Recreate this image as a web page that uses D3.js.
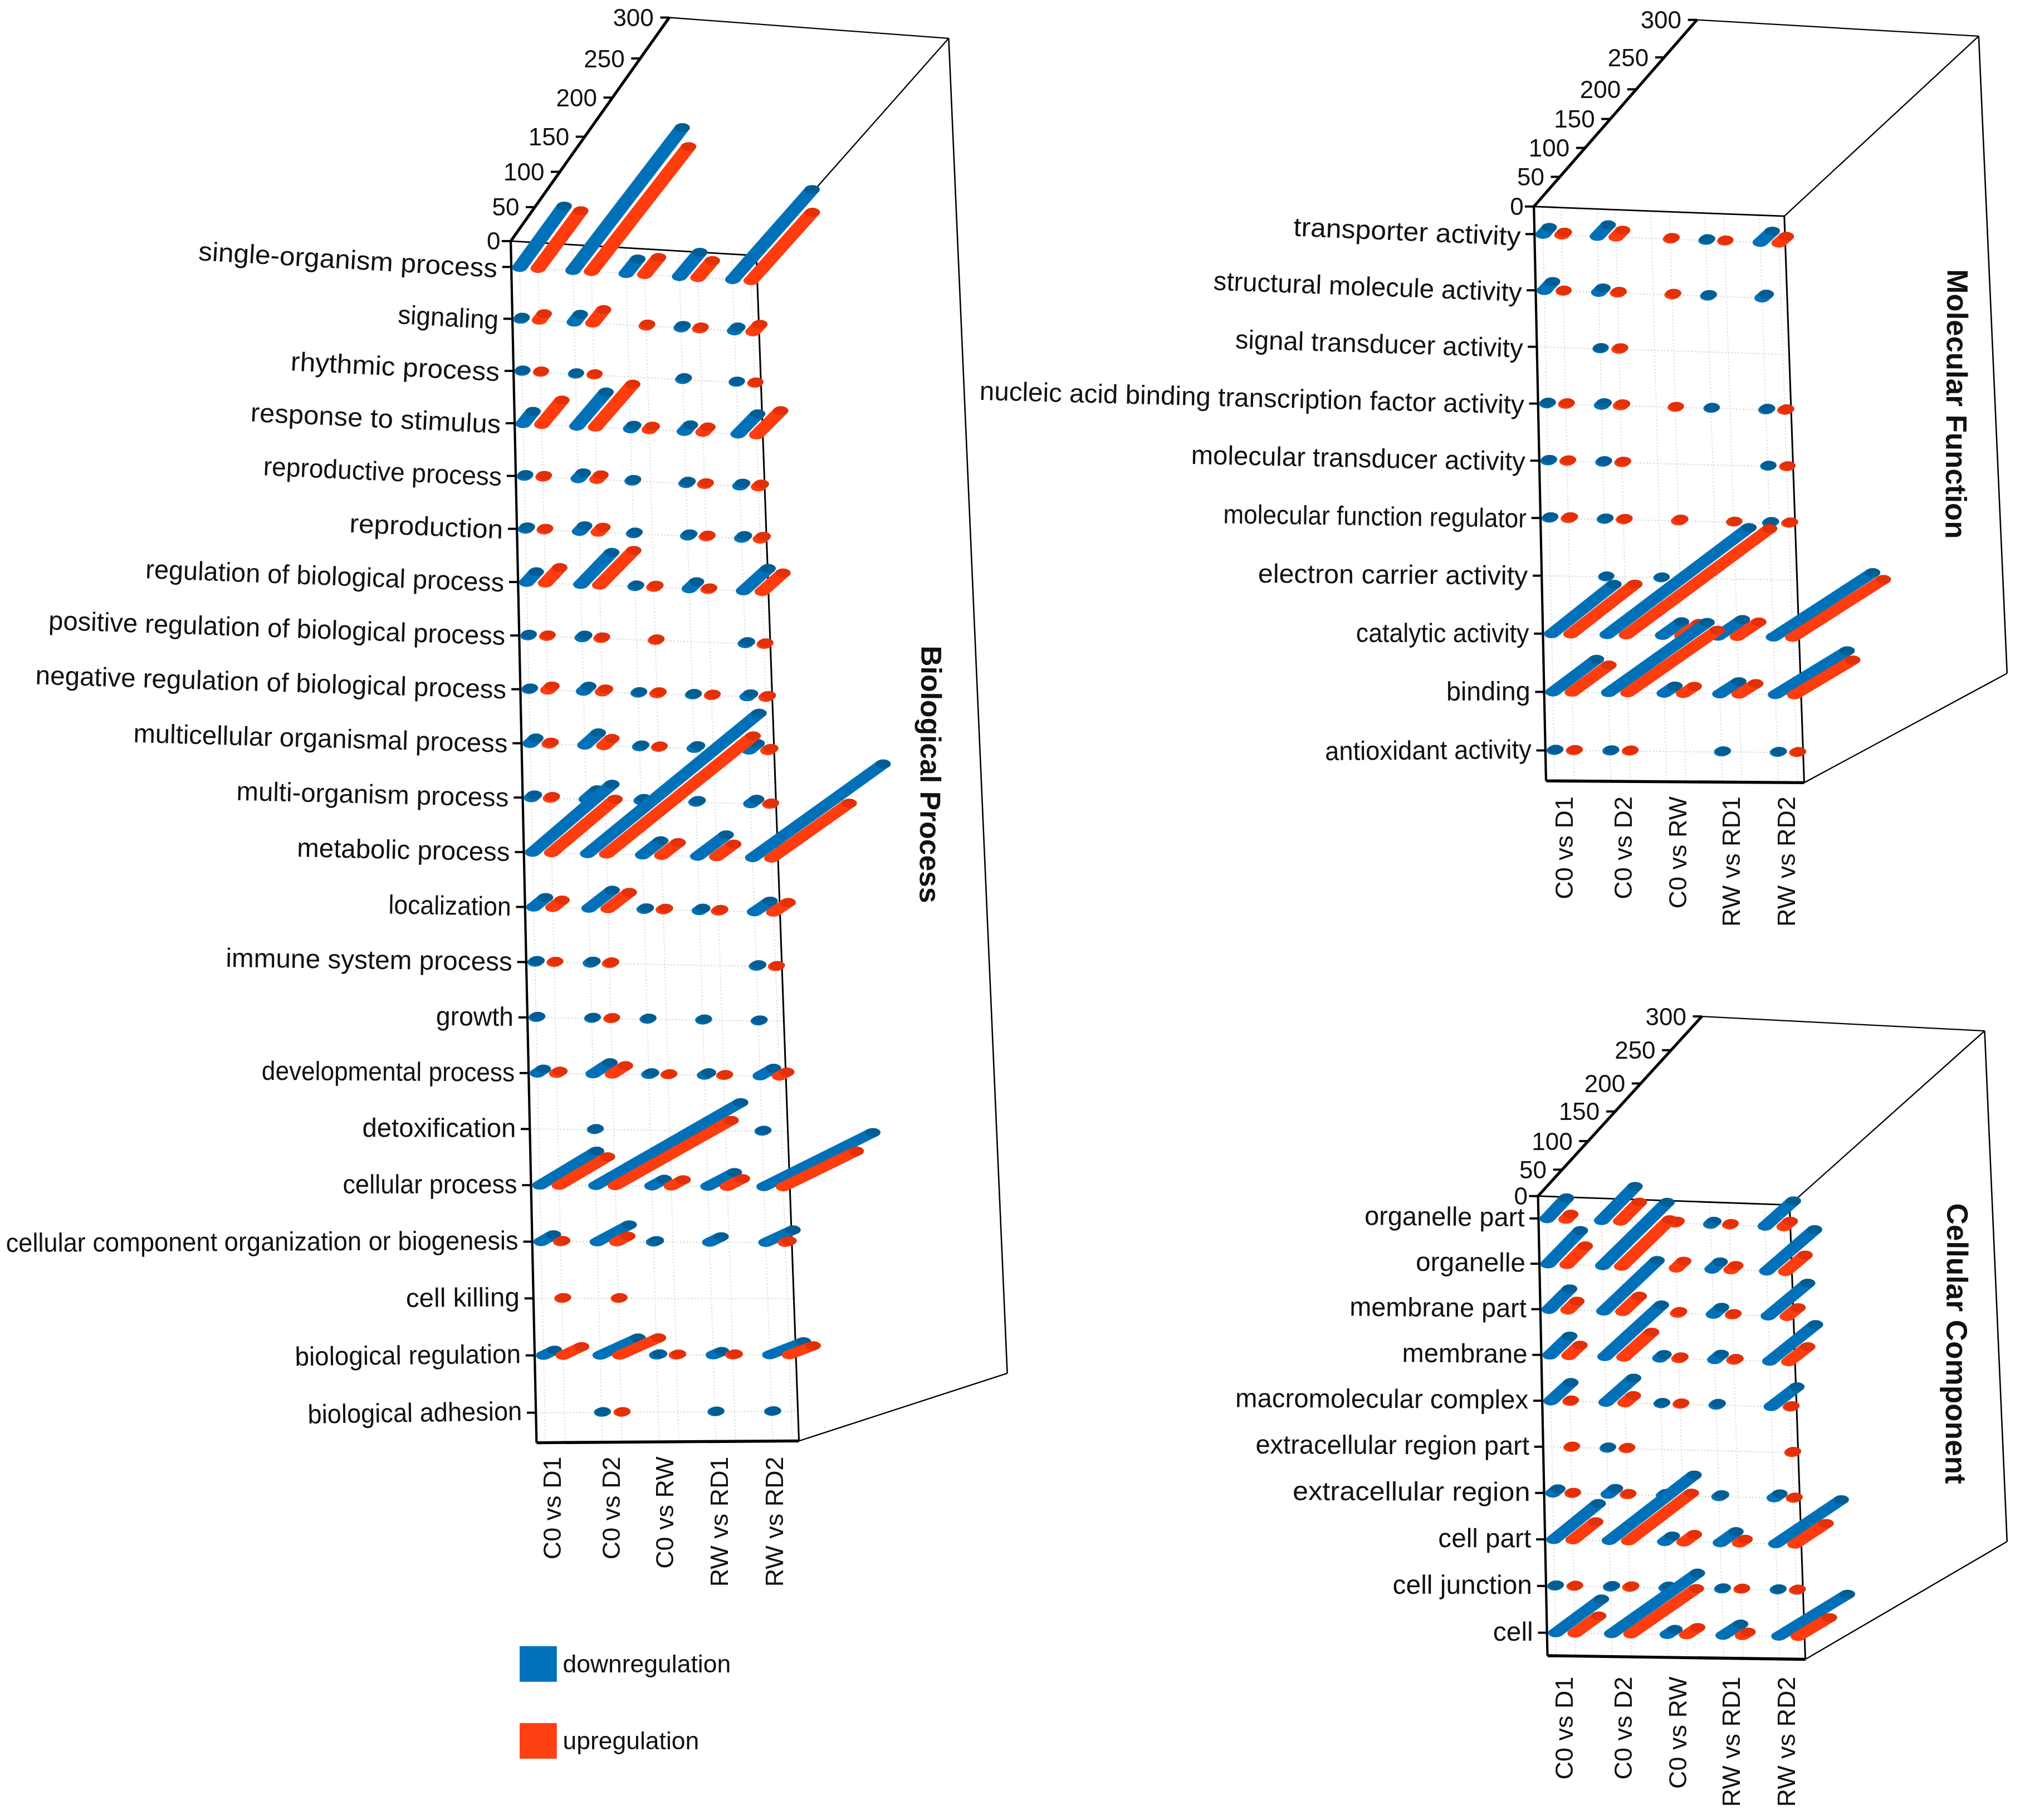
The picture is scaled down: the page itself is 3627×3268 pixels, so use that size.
<!DOCTYPE html>
<html><head><meta charset="utf-8">
<script src="https://cdn.jsdelivr.net/npm/d3@7"></script>
<style>
html,body{margin:0;padding:0;background:#fff}
svg{display:block;filter:blur(0.6px)}
text{font-family:"Liberation Sans",Arial,sans-serif;fill:#111}
</style></head><body>
<svg id="chart"></svg>
<script>
const comparisons = ["C0 vs D1","C0 vs D2","C0 vs RW","RW vs RD1","RW vs RD2"];
const depthTicks = [0,50,100,150,200,250,300];
const legendNames = ["downregulation","upregulation"];

const bpCategories = ["single-organism process","signaling","rhythmic process","response to stimulus","reproductive process","reproduction","regulation of biological process","positive regulation of biological process","negative regulation of biological process","multicellular organismal process","multi-organism process","metabolic process","localization","immune system process","growth","developmental process","detoxification","cellular process","cellular component organization or biogenesis","cell killing","biological regulation","biological adhesion"];
const bpDown = [[90,203,22,37,135],[3,12,null,4,6],[2,2,null,3,2],[20,56,6,11,34],[3,10,3,4,5],[4,10,3,4,5],[19,58,3,13,42],[3,5,null,null,4],[3,10,3,3,6],[11,25,4,6,14],[6,20,5,4,10],[145,285,32,49,205],[22,42,4,6,26],[4,5,null,null,4],[3,3,3,3,3],[11,30,5,7,22],[null,3,null,null,3],[99,235,21,44,170],[22,55,5,19,44],[null,null,null,null,null],[19,64,5,14,54],[null,3,null,3,3]];
const bpUp = [[85,180,26,26,103],[10,21,3,3,12],[2,2,null,null,2],[40,70,6,9,41],[3,8,null,3,5],[3,9,null,3,5],[28,63,4,3,35],[3,3,3,null,3],[8,6,4,3,4],[4,15,3,null,5],[4,null,null,null,3],[115,245,29,29,125],[17,38,4,4,24],[3,4,null,null,3],[null,3,null,null,null],[6,23,3,3,12],[null,null,null,null,null],[84,190,20,25,115],[4,19,null,null,6],[3,3,null,null,null],[32,65,4,4,38],[null,3,null,null,null]];

const mfCategories = ["transporter activity","structural molecule activity","signal transducer activity","nucleic acid binding transcription factor activity","molecular transducer activity","molecular function regulator","electron carrier activity","catalytic activity","binding","antioxidant activity"];
const mfDown = [[12,20,null,3,20],[16,8,null,3,7],[null,2,null,null,null],[3,5,null,2,3],[3,3,null,null,2],[3,3,null,null,3],[null,2,2,null,null],[113,245,32,40,160],[78,172,18,31,115],[3,3,null,3,3]];
const mfUp = [[5,12,3,2,12],[2,3,3,null,null],[null,3,null,null,null],[3,4,2,null,3],[3,3,null,null,2],[4,3,4,2,3],[null,null,null,null,null],[115,245,29,35,145],[65,155,18,27,92],[3,3,null,null,3]];

const ccCategories = ["organelle part","organelle","membrane part","membrane","macromolecular complex","extracellular region part","extracellular region","cell part","cell junction","cell"];
const ccDown = [[40,65,null,6,50],[65,120,null,15,82],[42,100,null,15,68],[40,105,8,12,78],[40,53,3,4,45],[null,3,null,null,null],[10,14,5,5,10],[84,150,14,28,108],[3,4,5,3,3],[85,150,14,31,112]];
const ccUp = [[10,37,4,3,11],[37,90,14,9,34],[18,32,4,3,19],[22,53,4,4,33],[3,16,3,null,3],[3,3,null,null,3],[3,3,null,null,3],[44,112,19,10,53],[3,4,null,3,3],[45,115,20,10,53]];

// layout only: fitted text lengths of the category labels
const bpLabelLengths = [232,78,162,194,185,119,278,354,365,290,211,165,95,222,60,196,119,135,397,88,175,166];
const mfLabelLengths = [176,239,223,422,259,235,209,134,65,160];
const ccLabelLengths = [124,85,137,97,227,212,184,72,108,31];

const W = 3627, H = 3268, S = 3627/1565;
const colors = {down:"#0071b8", downTop:"#005e94", up:"#ff3c0e", upTop:"#e23008",
                legendDown:"#0072bc", legendUp:"#ff4013"};

const svg = d3.select("#chart").attr("width",W).attr("height",H)
  .attr("viewBox",`0 0 ${W/S} ${H/S}`);

const panels = [
 {title:"Biological Process", categories:bpCategories, down:bpDown, up:bpUp, lengths:bpLabelLengths,
  TL:[395.7,186.8],TR:[586,198],BR:[619,1116.4],BL:[415.7,1117.8],
  bTL:[518.5,13.6],bTR:[735,29.7],bBR:[780.4,1064],bBL:[564,1055],
  fracs:[0,.152,.310,.467,.642,.817,1], vRange:[.0215,.975], bow:.0525, tilt:[3.4,-1], drop:[2,-.5],
  xLab:[429.5,475.5,517,559,602], xLabY:1128.5, titlePos:[721,600], titleFs:22.3},
 {title:"Molecular Function", categories:mfCategories, down:mfDown, up:mfUp, lengths:mfLabelLengths,
  TL:[1188.4,160],TR:[1382.4,167.5],BR:[1397.8,606.4],BL:[1197.8,605],
  bTL:[1314.7,15.4],bTR:[1533,28],bBR:[1555,521.7],bBL:[1336.7,509],
  fracs:[0,.159,.314,.469,.628,.799,1], vRange:[.048,.947], bow:.023, tilt:[2.6,-.7], drop:[2.8,-.2],
  xLab:[1213.5,1259.5,1301.5,1343,1386], xLabY:617, titlePos:[1516,313], titleFs:22.8},
 {title:"Cellular Component", categories:ccCategories, down:ccDown, up:ccUp, lengths:ccLabelLengths,
  TL:[1191.6,926.7],TR:[1386.5,933.6],BR:[1398.7,1285.6],BL:[1198.9,1282.8],
  bTL:[1318.5,787.5],bTR:[1537.6,798.7],bBR:[1555,1194.4],bBL:[1336,1183],
  fracs:[0,.147,.306,.471,.627,.812,1], vRange:[.0486,.95], bow:.018, tilt:[.6,0], drop:[0,0],
  xLab:[1213.5,1259.5,1301.5,1343,1386], xLabY:1299, titlePos:[1516,1041], titleFs:22.9}
];

const bil = (a,b,c,d,u,v) => [0,1].map(k =>
  (1-v)*((1-u)*a[k]+u*b[k]) + v*((1-u)*d[k]+u*c[k]));
const RX = 5.9, RY = 3.5, RED_OFFSET = .075, LABEL_FS = 20.6;

panels.forEach(p => {
  const g = svg.append("g");
  const face = (u,v) => bil(p.TL,p.TR,p.BR,p.BL,u,v);
  const depthVec = (u,v) => bil(
    [p.bTL[0]-p.TL[0],p.bTL[1]-p.TL[1]],[p.bTR[0]-p.TR[0],p.bTR[1]-p.TR[1]],
    [p.bBR[0]-p.BR[0],p.bBR[1]-p.BR[1]],[p.bBL[0]-p.BL[0],p.bBL[1]-p.BL[1]],u,v);
  const depth = d3.scaleLinear().domain(depthTicks).range(p.fracs);
  const tScale = d3.scalePoint().domain(p.categories).range([0,1]);
  const vSpan = d3.scaleLinear().domain([0,1]).range(p.vRange);
  const vScale = c => { const t = tScale(c); return vSpan(t + p.bow*(t*t-t)); };
  const uScale = d3.scalePoint().domain(comparisons).range([.034,.90]);
  const tilt = d3.scaleLinear().domain([0,1]).range(p.tilt);
  const drop = d3.scaleLinear().domain([0,1]).range(p.drop);
  const xLab = d3.scaleOrdinal().domain(comparisons).range(p.xLab);
  const line = (a,b,w,col,dash) => g.append("line")
    .attr("x1",a[0]).attr("y1",a[1]).attr("x2",b[0]).attr("y2",b[1])
    .attr("stroke",col||"#000").attr("stroke-width",w).attr("stroke-dasharray",dash||null);

  // dotted grid on the front face
  p.categories.forEach(c => {
    const v = vScale(c);
    line(face(0,v),face(1,v),.8,"#cfcfcf","1,1.6");
  });
  comparisons.forEach(c => [0,RED_OFFSET].forEach(o => {
    const u = uScale(c)+o;
    line(face(u,0),face(u,1),.8,"#d8d8d8","1,1.6");
  }));

  // box frame
  line(p.TL,p.TR,1.2);
  line(p.TR,p.bTR,1);
  line(p.bTL,p.bTR,1);
  line(p.bTR,p.bBR,1.1);
  line(p.BR,p.bBR,1);
  line(p.TR,p.BR,1.3);
  line(p.TL,p.BL,1.8);
  line(p.BL,p.BR,2.3);
  line(p.TL,p.bTL,2.2);

  // value ticks on the receding axis
  depthTicks.forEach(t => {
    const f = depth(t);
    const pt = [p.TL[0]+(p.bTL[0]-p.TL[0])*f, p.TL[1]+(p.bTL[1]-p.TL[1])*f];
    line([pt[0]-7,pt[1]],pt,1.7);
    g.append("text").attr("x",pt[0]-(t===0?8:12)).attr("y",pt[1]+6.7)
      .attr("text-anchor","end").attr("font-size",19).text(t);
  });

  // category ticks and labels
  p.categories.forEach((c,i) => {
    const v = vScale(c), pt = face(0,v);
    line([pt[0]-7,pt[1]],pt,1.7);
    const lx = pt[0]-10.8, ly = pt[1]+drop(v);
    g.append("text").attr("transform",`translate(${lx},${ly}) rotate(${tilt(v)})`)
      .attr("dy","0.3em").attr("text-anchor","end").attr("font-size",LABEL_FS)
      .attr("textLength",p.lengths[i]).attr("lengthAdjust","spacingAndGlyphs").text(c);
  });

  // comparison labels
  comparisons.forEach(c => {
    g.append("text").attr("transform",`translate(${xLab(c)},${p.xLabY}) rotate(-90)`)
      .attr("dy","0.25em").attr("text-anchor","end").attr("font-size",19.4).text(c);
  });

  // title
  g.append("text").attr("transform",`translate(${p.titlePos[0]},${p.titlePos[1]}) rotate(90.4)`)
    .attr("text-anchor","middle").attr("dy","0.35em").attr("font-weight","bold")
    .attr("font-size",p.titleFs).text(p.title);

  // cylinders, rows top to bottom
  const drawBar = (value,u,v,body,top) => {
    if (value == null) return;
    const a = face(u,v), d = depthVec(u,v), f = depth(value);
    const b = [a[0]+d[0]*f, a[1]+d[1]*f];
    const sx = (b[0]-a[0])/RX, sy = (b[1]-a[1])/RY, l = Math.hypot(sx,sy)||1;
    const nx = -sy/l*RX, ny = sx/l*RY;
    const path = d3.path();
    path.moveTo(a[0]+nx,a[1]+ny); path.lineTo(b[0]+nx,b[1]+ny);
    path.lineTo(b[0]-nx,b[1]-ny); path.lineTo(a[0]-nx,a[1]-ny); path.closePath();
    g.append("ellipse").attr("cx",a[0]).attr("cy",a[1]).attr("rx",RX).attr("ry",RY).attr("fill",body);
    g.append("path").attr("d",path.toString()).attr("fill",body);
    g.append("ellipse").attr("cx",b[0]).attr("cy",b[1]).attr("rx",RX).attr("ry",RY).attr("fill",top);
  };
  p.categories.forEach((c,i) => {
    const v = vScale(c);
    comparisons.forEach((cmp,j) => {
      drawBar(p.down[i][j],uScale(cmp),v,colors.down,colors.downTop);
      drawBar(p.up[i][j],uScale(cmp)+RED_OFFSET,v,colors.up,colors.upTop);
    });
  });
});

// legend
const legY = d3.scalePoint().domain(legendNames).range([1275.4,1335]);
legendNames.forEach((n,i) => {
  svg.append("rect").attr("x",402.6).attr("y",legY(n)).attr("width",28.8).attr("height",27.6)
    .attr("fill",i===0?colors.legendDown:colors.legendUp);
  svg.append("text").attr("x",436).attr("y",legY(n)+20.4).attr("font-size",19.2).text(n);
});
</script>
</body></html>
